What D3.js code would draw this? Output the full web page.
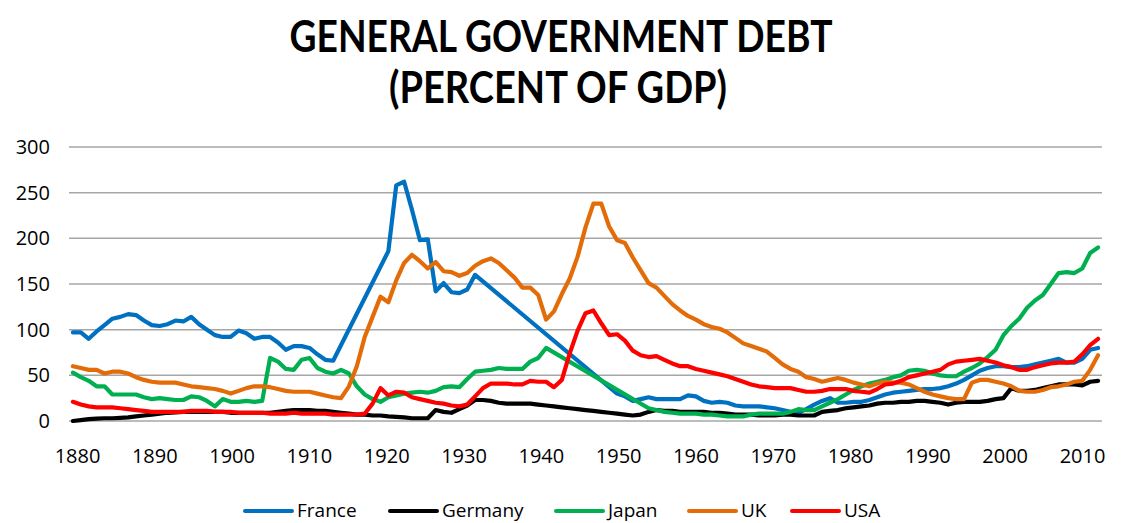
<!DOCTYPE html>
<html><head><meta charset="utf-8">
<script src="https://cdn.jsdelivr.net/npm/d3@7"></script>
<style>body{margin:0;background:#fff}svg{display:block}</style>
</head><body><svg id="c" width="1123" height="523"></svg>
<script>
const years = d3.range(1880, 2011);
const tickYears = [1880,1890,1900,1910,1920,1930,1940,1950,1960,1970,1980,1990,2000,2010];
const yTicks = [0,50,100,150,200,250,300];
const seriesNames = ["France","Germany","Japan","UK","USA"];
const seriesColors = ["#0070C0","#000000","#00B050","#E36C09","#FF0000"];
const N = null;
const france = [97,97,90,98,105,112,114,117,116,110, 105,104,106,110,109,114,106,100,94,92,
 92,99,96,90,92,92,86,78,82,82, 80,73,67,66,N,N,N,N,N,N,
 186,258,262,231,198,199,142,151,141,140, 144,160,N,N,N,N,N,N,N,N,
 N,N,N,N,N,N,N,N,N,30, 27,22,24,26,24,24,24,24,28,27,
 22,20,21,20,17,16,16,16,15,14, 12,10,9,13,18,22,25,20,20,21,
 21,23,26,29,31,32,33,34,35,35, 36,38,41,45,50,55,58,60,60,59,
 59,60,62,64,66,68,64,64,68,78, 80];
const germany = [0,1,2,2.5,3,3,3.5,4,5,6, 7,8,9,9.5,10,10,10,10,10,10,
 9,9,9,9,9,9,10,11,12,12, 12,11,11,10,9,8,7,7,6,6,
 5,4.5,4,3,3,3,12,10,9,13, 17,23,23,22,20,19,19,19,19,18,
 17,16,15,14,13,12,11,10,9,8, 7,6,7,10,12,11,11,10,10,10,
 10,9,9,8,7,7,7,6,6,6, 7,7,6,6,6,10,11,12,14,15,
 16,17,19,20,20,21,21,22,22,21, 20,18,20,21,21,21,22,24,25,36,
 33,33,34,36,38,40,40,40,39,43, 44];
const japan = [53,48,44,38,38,29,29,29,29,26, 24,25,24,23,23,27,26,22,16,24,
 21,21,22,21,22,69,65,57,56,67, 69,58,54,52,56,52,38,29,24,21,
 26,28,30,31,32,31,33,37,38,37, 46,54,55,56,58,57,57,57,65,69,
 80,N,N,N,N,N,N,N,N,N, N,N,N,14,12,10,9,8,8,8,
 7,7,6,5,5,5,7,8,8,8, 8,10,13,12,12,16,20,24,29,34,
 38,41,43,45,48,50,55,56,55,52, 50,49,49,54,58,63,70,78,94,104,
 112,124,132,138,150,162,163,162,167,184, 190];
const uk = [60,58,56,56,52,54,54,52,48,45, 43,42,42,42,40,38,37,36,35,33,
 30,33,36,38,38,37,35,33,32,32, 32,30,28,26,25,38,60,92,114,136,
 130,154,173,182,175,167,174,164,163,159, 162,170,175,178,173,165,157,146,146,138,
 111,120,139,156,180,212,238,238,213,198, 195,179,165,151,146,137,128,121,115,111,
 106,103,101,97,91,85,82,79,76,69, 62,57,54,48,46,43,45,47,45,42,
 40,38,41,43,42,42,40,36,32,29, 27,25,24,24,42,45,45,43,41,38,
 33,32,32,34,37,38,40,43,44,56, 72];
const usa = [21,18,16,15,15,15,14,13,12,11, 10,10,10,10,10,11,11,11,10,10,
 10,9,9,9,9,8,8,8,9,8, 8,8,8,7,7,7,7,8,19,36,
 28,32,31,26,24,22,20,19,17,16, 18,27,36,41,41,41,40,40,44,43,
 43,37,45,74,99,118,121,107,94,95, 88,77,72,70,71,67,63,60,60,57,
 55,53,51,49,46,43,40,38,37,36, 36,36,34,32,32,33,35,35,35,33,
 32,31,35,40,41,44,48,50,52,54, 56,62,65,66,67,68,66,64,61,59,
 56,56,59,61,63,64,64,65,73,83, 90];
const seriesValues = [france, germany, japan, uk, usa];

const svg = d3.select("#c");
const L = 69, R = 1102, T = 147, B = 421;
const xb = d3.scaleBand().domain(years).range([L, R]).padding(0);
const x = d => xb(d) + xb.bandwidth()/2;
const y = d3.scaleLinear().domain([0,300]).range([B, T]);

// gridlines
svg.append("g").selectAll("line").data(yTicks).join("line")
  .attr("x1", L).attr("x2", R).attr("y1", d=>y(d)).attr("y2", d=>y(d))
  .attr("stroke", "#a6a6a6").attr("stroke-width", 1.5);

// y axis labels
const yAxis = d3.axisLeft(y).tickValues(yTicks).tickSize(0).tickPadding(0);
const gy = svg.append("g").attr("transform", "translate(50,0)").call(yAxis);
gy.select(".domain").remove();
gy.selectAll("text").attr("font-family","'Open Sans', sans-serif").attr("font-size", 20).attr("fill","#000");

// x axis labels
const xLab = d3.scalePoint().domain(tickYears).range([77, 1082]);
const xAxis = d3.axisBottom(xLab).tickSize(0).tickPadding(0);
const gx = svg.append("g").attr("transform", "translate(0,449)").call(xAxis);
gx.select(".domain").remove();
gx.selectAll("text").attr("font-family","'Open Sans', sans-serif").attr("font-size", 20).attr("fill","#000").attr("dy","0.72em");

// lines
const line = d3.line().x(d=>x(d[0])).y(d=>y(d[1]));
seriesValues.forEach((vals, i) => {
  const pts = years.map((yr, j) => [yr, vals[j]]).filter(p => p[1] !== null);
  svg.append("path").datum(pts).attr("d", line).attr("fill","none")
    .attr("stroke", seriesColors[i]).attr("stroke-width", 4.2)
    .attr("stroke-linejoin","round").attr("stroke-linecap","round");
});

// title
const title = svg.append("g").attr("font-family","Lato, 'Open Sans', sans-serif").attr("font-weight","bold").attr("font-size",44).attr("text-anchor","middle").attr("fill","#000");
title.append("text").attr("x", 561).attr("y", 52).attr("textLength", 543).attr("lengthAdjust","spacingAndGlyphs").text("GENERAL GOVERNMENT DEBT");
title.append("text").attr("x", 558).attr("y", 103).attr("textLength", 338).attr("lengthAdjust","spacingAndGlyphs").text("(PERCENT OF GDP)");

// legend
const legX = [245, 390, 556, 689, 792];
const lg = svg.append("g");
seriesNames.forEach((n, i) => {
  lg.append("line").attr("x1", legX[i]).attr("x2", legX[i]+47).attr("y1", 511).attr("y2", 511)
    .attr("stroke", seriesColors[i]).attr("stroke-width", 4).attr("stroke-linecap","round");
  lg.append("text").attr("x", legX[i]+52).attr("y", 517).attr("font-family","'Open Sans', sans-serif")
    .attr("font-size", 19).attr("fill","#000").text(n);
});
</script></body></html>
